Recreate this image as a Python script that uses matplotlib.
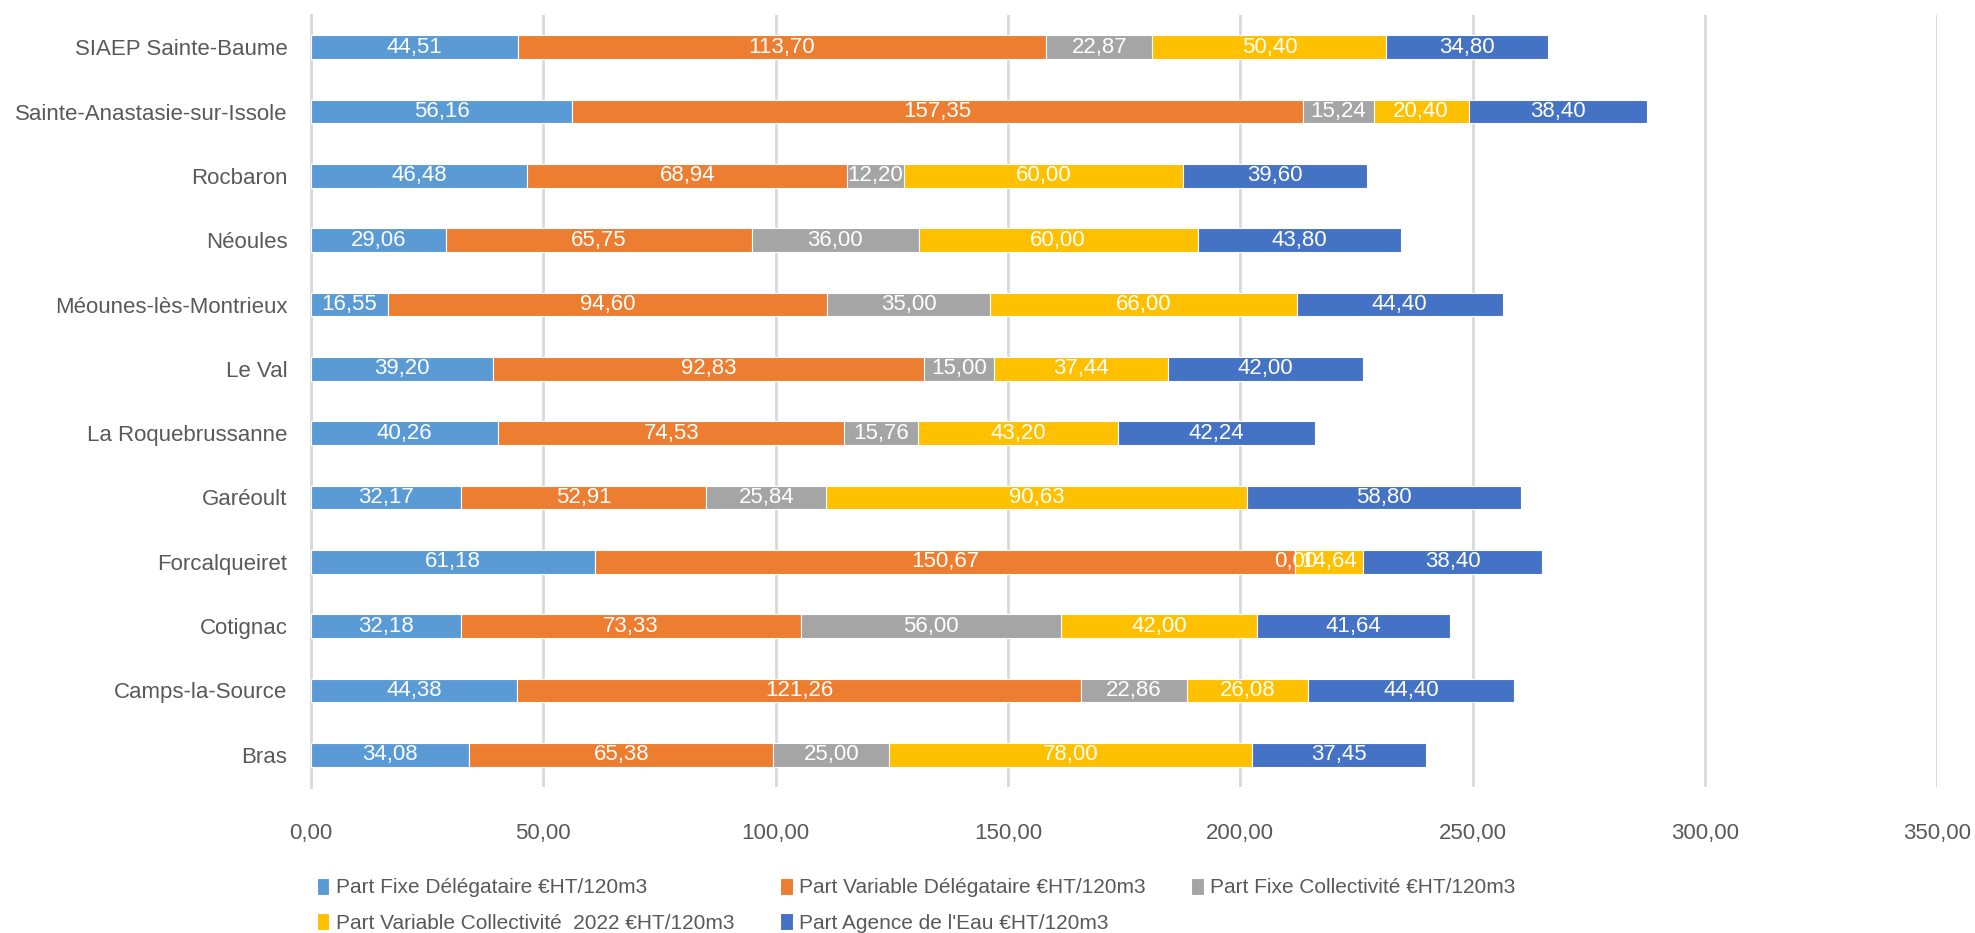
import matplotlib
matplotlib.use("Agg")
import matplotlib.pyplot as plt
import numpy as np

plt.rcParams['font.family'] = ['Liberation Sans', 'DejaVu Sans']

categories = ["Bras", "Camps-la-Source", "Cotignac", "Forcalqueiret", "Garéoult",
              "La Roquebrussanne", "Le Val", "Méounes-lès-Montrieux", "Néoules",
              "Rocbaron", "Sainte-Anastasie-sur-Issole", "SIAEP Sainte-Baume"]
fixe_delegataire = [34.08, 44.38, 32.18, 61.18, 32.17, 40.26, 39.20, 16.55, 29.06, 46.48, 56.16, 44.51]
variable_delegataire = [65.38, 121.26, 73.33, 150.67, 52.91, 74.53, 92.83, 94.60, 65.75, 68.94, 157.35, 113.70]
fixe_collectivite = [25.00, 22.86, 56.00, 0.00, 25.84, 15.76, 15.00, 35.00, 36.00, 12.20, 15.24, 22.87]
variable_collectivite = [78.00, 26.08, 42.00, 14.64, 90.63, 43.20, 37.44, 66.00, 60.00, 60.00, 20.40, 50.40]
agence_eau = [37.45, 44.40, 41.64, 38.40, 58.80, 42.24, 42.00, 44.40, 43.80, 39.60, 38.40, 34.80]

series_names = ["Part Fixe Délégataire €HT/120m3", "Part Variable Délégataire €HT/120m3",
                "Part Fixe Collectivité €HT/120m3", "Part Variable Collectivité  2022 €HT/120m3",
                "Part Agence de l'Eau €HT/120m3"]
series = [fixe_delegataire, variable_delegataire, fixe_collectivite, variable_collectivite, agence_eau]
colors = ["#5B9BD5", "#ED7D31", "#A5A5A5", "#FFC000", "#4472C4"]
xticks = [0, 50, 100, 150, 200, 250, 300, 350]

fig = plt.figure(figsize=(19.75, 9.33), dpi=100)
ax = fig.add_axes([0.1575, 0.1565, 0.8233, 0.8274])

y = np.arange(len(categories))
left = np.zeros(len(categories))
handles = []
for name, vals, col in zip(series_names, series, colors):
    vals = np.array(vals)
    bars = ax.barh(y, vals, left=left, height=0.37, color=col, edgecolor='white',
                   linewidth=0.8, label=name, zorder=3)
    handles.append(bars)
    for yi, l, v in zip(y, left, vals):
        ax.text(l + v / 2, yi, f"{v:.2f}".replace('.', ','), ha='center', va='center',
                color='white', fontsize=16, zorder=4)
    left = left + vals

ax.set_xlim(0, 350)
ax.set_ylim(-0.5, len(categories) - 0.5)
ax.set_xticks(xticks)
ax.set_xticklabels([f"{t:.2f}".replace('.', ',') for t in xticks])
ax.set_yticks(y)
ax.set_yticklabels(categories)
ax.tick_params(axis='both', length=0, labelsize=16, colors='#595959')
ax.tick_params(axis='x', pad=26)
ax.tick_params(axis='y', pad=17)
ax.xaxis.grid(True, color='#D9D9D9', linewidth=2, zorder=0)
for s in ['top', 'right', 'bottom']:
    ax.spines[s].set_visible(False)
ax.spines['left'].set_color('#D9D9D9')
ax.spines['left'].set_linewidth(2)

order = [0, 3, 1, 4, 2]
leg = fig.legend([handles[i] for i in order], [series_names[i] for i in order],
                 ncol=3, loc='lower left', bbox_to_anchor=(0.151, -0.02), frameon=False,
                 fontsize=15, handlelength=0.6, handleheight=0.9, handletextpad=0.3,
                 columnspacing=2.2, labelspacing=0.75)
for t in leg.get_texts():
    t.set_color('#595959')

fig.savefig("out.png", dpi=100)
